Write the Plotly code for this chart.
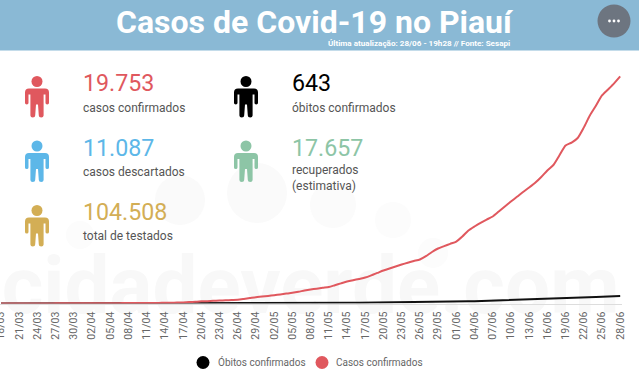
import pandas as pd
import plotly.graph_objects as go

W, H = 640, 391

dates = [d.strftime("%d/%m") for d in pd.date_range("2020-03-18", "2020-06-28")]
tick_labels = dates[::3]

casos = [0, 2, 3, 4, 5, 6, 7, 9, 10, 11,
         12, 14, 16, 17, 19, 21, 24, 26, 28, 31,
         33, 36, 39, 42, 45, 48, 52, 60, 70, 80,
         95, 120, 150, 185, 205, 230, 260, 275, 300, 320,
         390, 470, 550, 600, 660, 720, 790, 860, 930, 1020,
         1130, 1220, 1290, 1370, 1435, 1590, 1750, 1910, 2030, 2140,
         2260, 2450, 2660, 2870, 3050, 3220, 3390, 3550, 3700, 3830,
         4120, 4480, 4785, 4990, 5190, 5390, 5830, 6350, 6700, 7020,
         7300, 7570, 8000, 8440, 8870, 9280, 9700, 10090, 10500, 11000,
         11570, 12050, 12900, 13750, 14000, 14400, 15300, 16350, 17200, 18100,
         18620, 19150, 19753]
obitos = [0, 0, 0, 0, 0, 0, 0, 0, 0, 0,
          0, 0, 1, 1, 2, 2, 3, 3, 4, 4,
          5, 5, 6, 6, 7, 8, 9, 9, 10, 11,
          12, 13, 14, 15, 16, 17, 18, 19, 20, 21,
          22, 24, 25, 27, 28, 30, 32, 34, 36, 38,
          40, 42, 45, 48, 50, 53, 56, 60, 63, 66,
          70, 74, 78, 82, 86, 90, 94, 98, 100, 108,
          125, 140, 150, 158, 165, 170, 180, 190, 200, 215,
          230, 245, 260, 280, 300, 320, 335, 350, 375, 400,
          420, 440, 450, 460, 480, 500, 520, 540, 560, 580,
          600, 620, 643]

stat_values = ["19.753", "643", "11.087", "17.657", "104.508"]
stat_labels = ["casos confirmados", "óbitos confirmados", "casos descartados",
               "recuperados<br>(estimativa)", "total de testados"]
stat_colors = ["#e0585e", "#000000", "#5db7e8", "#8dc5a6", "#d3ae55"]

FONT = "Roboto"


def px(x):
    return x / W


def py(y):
    return 1 - y / H


def person(cx, top, color):
    """Person icon as paper-space path; cx = centre, top = head centre y."""
    def P(dx, dy):
        return f"{px(cx + dx):.5f},{py(top + dy):.5f}"
    o = 7.0  # shoulder line below head centre
    d = ("M" + P(-8, o) + " L" + P(8, o) + " Q" + P(12, o) + " " + P(12, o + 4) +
         " L" + P(12, o + 14.5) + " Q" + P(12, o + 16) + " " + P(10.2, o + 16) +
         " Q" + P(8.5, o + 16) + " " + P(8.5, o + 14.5) + " L" + P(8.5, o + 6) +
         " L" + P(6.6, o + 6) + " L" + P(6.6, o + 27) + " Q" + P(6.6, o + 29) + " " + P(4.2, o + 29) +
         " Q" + P(1.8, o + 29) + " " + P(1.8, o + 27) + " L" + P(1.0, o + 16) +
         " L" + P(-1.0, o + 16) + " L" + P(-1.8, o + 27) + " Q" + P(-1.8, o + 29) + " " + P(-4.2, o + 29) +
         " Q" + P(-6.6, o + 29) + " " + P(-6.6, o + 27) + " L" + P(-6.6, o + 6) +
         " L" + P(-8.5, o + 6) + " L" + P(-8.5, o + 14.5) + " Q" + P(-8.5, o + 16) + " " + P(-10.2, o + 16) +
         " Q" + P(-12, o + 16) + " " + P(-12, o + 14.5) + " L" + P(-12, o + 4) +
         " Q" + P(-12, o) + " " + P(-8, o) + " Z")
    return [
        dict(type="path", xref="paper", yref="paper", path=d, fillcolor=color, line_width=0, layer="above"),
        dict(type="circle", xref="paper", yref="paper", x0=px(cx - 5.5), x1=px(cx + 5.5),
             y0=py(top + 5.5), y1=py(top - 5.5), fillcolor=color, line_width=0, layer="above"),
    ]


def circle(cx, cy, r, color, layer="below"):
    return dict(type="circle", xref="paper", yref="paper", x0=px(cx - r), x1=px(cx + r),
                y0=py(cy + r), y1=py(cy - r), fillcolor=color, line_width=0, layer=layer)


def text(x, y, s, size, color, anchor="left", weight="normal", yanchor="middle"):
    return dict(xref="paper", yref="paper", x=px(x), y=py(y), text=s, showarrow=False,
                xanchor=anchor, yanchor=yanchor, align="left",
                font=dict(family=FONT, size=size, color=color, weight=weight),
                borderpad=0, borderwidth=0)


fig = go.Figure()
# watermark, kept under the lines
fig.add_trace(go.Scatter(x=[dates[51]], y=[900], mode="text", text=["cidadeverde.com"],
                         textposition="middle center", cliponaxis=False, hoverinfo="skip",
                         textfont=dict(family=FONT, size=80, color="#f8f8f8", weight="bold"),
                         showlegend=False))
fig.add_trace(go.Scatter(x=dates, y=obitos, mode="lines", name="Óbitos confirmados",
                         line=dict(color="#111111", width=2), showlegend=False))
fig.add_trace(go.Scatter(x=dates, y=casos, mode="lines", name="Casos confirmados",
                         line=dict(color="#e0585e", width=2, shape="spline", smoothing=0.6), showlegend=False))

shapes = [
    dict(type="rect", xref="paper", yref="paper", x0=0, x1=px(639), y0=py(50.5), y1=1,
         fillcolor="#8ab9d5", line_width=0, layer="below"),
    circle(180, 200, 25, "#fafafa"), circle(257, 193, 30, "#fafafa"), circle(333, 205, 23, "#fbfbfb"),
    circle(393, 220, 18, "#fcfcfc"), circle(433, 253, 15, "#fcfcfc"), circle(80, 235, 14, "#fcfcfc"),
    circle(614, 21, 16.5, "#6d7580", "above"),
    circle(609.5, 21, 1.4, "#ffffff", "above"), circle(614, 21, 1.4, "#ffffff", "above"),
    circle(618.5, 21, 1.4, "#ffffff", "above"),
    circle(203, 362.5, 6.5, "#000000", "above"), circle(322, 362.5, 6.5, "#e0585e", "above"),
]
for (cx, top), c in zip([(37, 81.5), (246, 81.5), (37, 146), (246, 146), (37, 210.5)], stat_colors):
    shapes += person(cx, top, c)

annotations = [
    text(314.5, 22, "Casos de Covid-19 no Piauí", 32, "#ffffff", "center", "bold"),
    text(418.5, 43.5, "Última atualização: 28/06 - 19h28 // Fonte: Sesapi", 8.1, "#ffffff", "center", "bold"),
    text(218, 362, "Óbitos confirmados", 10, "#666666"),
    text(336, 362, "Casos confirmados", 10, "#666666"),
]
for (x, yv, yl), v, l, c in zip([(83, 83, 108), (292, 83, 108), (83, 148, 172), (292, 148, 172), (83, 212, 236)],
                                stat_values, stat_labels, stat_colors):
    annotations.append(text(x, yv, v, 23.2, c))
    if "<br>" in l:
        annotations.append(text(x, yl + 6, l, 12, "#555555"))
    else:
        annotations.append(text(x, yl, l, 12, "#555555"))

fig.update_layout(
    width=W, height=H, margin=dict(l=0, r=0, t=0, b=0, autoexpand=False), autosize=False,
    paper_bgcolor="#ffffff", plot_bgcolor="rgba(0,0,0,0)",
    showlegend=False, shapes=shapes, annotations=annotations,
    xaxis=dict(type="category", categoryorder="array", categoryarray=dates, automargin=False,
               domain=[0, 622 / W], range=[-0.165, 102.3],
               tickmode="array", tickvals=tick_labels, ticktext=tick_labels, tickangle=-90,
               tickfont=dict(family=FONT, size=10.5, color="#666666"),
               showgrid=False, zeroline=False, showline=True, linecolor="#dddddd", linewidth=1,
               ticks="outside", ticklen=3, tickcolor="rgba(0,0,0,0)", anchor="y"),
    yaxis=dict(range=[0, 20000], domain=[py(303.5), py(73.6)], visible=False, automargin=False),
)
fig.write_html("out.html", config=dict(displayModeBar=False),
               post_script="document.body.style.margin='0';document.documentElement.style.overflow='hidden';")
